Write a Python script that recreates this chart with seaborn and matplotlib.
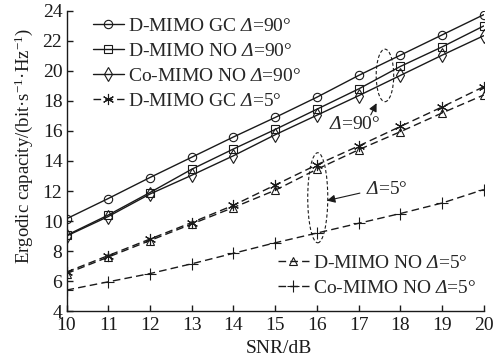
import matplotlib
matplotlib.use("Agg")
import matplotlib.pyplot as plt
import seaborn as sns
from matplotlib.patches import Ellipse

sns.set_theme(style="ticks")
plt.rcParams['font.family'] = ['Liberation Serif', 'DejaVu Serif']
# math text: Greek capitals come from "rm" -> italic Delta; "sf" used for upright superscripts
plt.rcParams['mathtext.fontset'] = 'custom'
plt.rcParams['mathtext.rm'] = 'Liberation Serif:italic'
plt.rcParams['mathtext.it'] = 'Liberation Serif:italic'
plt.rcParams['mathtext.sf'] = 'Liberation Serif'
plt.rcParams['lines.dashed_pattern'] = [5.5, 3.0]

# data
snr = [10, 11, 12, 13, 14, 15, 16, 17, 18, 19, 20]
dmimo_gc_90 = [10.15, 11.5, 12.9, 14.25, 15.6, 16.9, 18.25, 19.7, 21.05, 22.4, 23.75]
dmimo_no_90 = [9.05, 10.4, 11.9, 13.45, 14.8, 16.1, 17.45, 18.8, 20.3, 21.6, 23.0]
comimo_no_90 = [9.0, 10.3, 11.8, 13.05, 14.35, 15.75, 17.05, 18.35, 19.7, 21.05, 22.35]
dmimo_gc_5 = [6.6, 7.7, 8.8, 9.9, 11.05, 12.4, 13.75, 15.0, 16.3, 17.6, 18.95]
dmimo_no_5 = [6.5, 7.6, 8.7, 9.8, 10.9, 12.05, 13.45, 14.75, 15.95, 17.2, 18.4]
comimo_no_5 = [5.4, 5.95, 6.5, 7.15, 7.85, 8.55, 9.2, 9.85, 10.5, 11.2, 12.1]

D = r"$\Delta$"
series = [
    (dmimo_gc_90, f"D-MIMO GC {D}=90°", "o", "-", 6),
    (dmimo_no_90, f"D-MIMO NO {D}=90°", "s", "-", 6),
    (comimo_no_90, f"Co-MIMO NO {D}=90°", "d", "-", 7),
    (dmimo_gc_5, f"D-MIMO GC {D}=5°", (6, 2, 0), "--", 8),
    (dmimo_no_5, f"D-MIMO NO {D}=5°", "^", "--", 6),
    (comimo_no_5, f"Co-MIMO NO {D}=5°", "+", "--", 8),
]

fig = plt.figure(figsize=(5.04, 3.63), dpi=100)
ax = fig.add_axes([0.132, 0.143, 0.828, 0.827])

for vals, lab, mk, ls, ms in series:
    sns.lineplot(x=snr, y=vals, ax=ax, color="k", lw=1.0, linestyle=ls,
                 marker=mk, markersize=ms, markerfacecolor="none",
                 markeredgecolor="k", markeredgewidth=0.8, label=lab)

ax.set_xlim(10, 20)
ax.set_ylim(4, 24)
ax.set_xticks(range(10, 21))
ax.set_yticks(range(4, 25, 2))
sns.despine(ax=ax)
for s in ["left", "bottom"]:
    ax.spines[s].set_color("k")
    ax.spines[s].set_linewidth(1.0)
ax.tick_params(direction="in", length=4, width=1.0, colors="k", labelsize=14)
ax.tick_params(axis="x", pad=4)
ax.tick_params(axis="y", pad=3)

ax.set_xlabel("SNR/dB", fontsize=14, color="k")
ax.set_ylabel(r"Ergodic capacity/(bit·s$^{\mathsf{-1}}$·Hz$^{\mathsf{-1}}$)", fontsize=13.5, color="k")
ax.xaxis.set_label_coords(0.51, -0.095)
ax.yaxis.set_label_coords(-0.075, 0.55)

handles, labels = ax.get_legend_handles_labels()
ax.get_legend().remove()
leg1 = ax.legend(handles[:4], labels[:4], loc="upper left", bbox_to_anchor=(0.063, 0.98),
                 frameon=False, fontsize=14, handlelength=1.6, handletextpad=0.2,
                 labelspacing=0.38, borderpad=0, borderaxespad=0)
ax.add_artist(leg1)
ax.legend(handles[4:], labels[4:], loc="lower left", bbox_to_anchor=(0.506, 0.047),
          frameon=False, fontsize=14, handlelength=1.6, handletextpad=0.2,
          labelspacing=0.38, borderpad=0, borderaxespad=0)

# dashed ellipses and callouts
ax.add_patch(Ellipse((17.63, 19.7), 0.42, 3.5, fill=False, ec="k", lw=0.8, ls=(0, (3, 2))))
ax.add_patch(Ellipse((16.02, 11.55), 0.48, 6.0, fill=False, ec="k", lw=0.8, ls=(0, (3, 2))))
arrow = dict(arrowstyle="-|>", color="k", lw=0.8, mutation_scale=12, shrinkA=0, shrinkB=0)
ax.annotate("", xy=(17.43, 17.85), xytext=(17.29, 17.07), arrowprops=arrow)
ax.annotate("", xy=(16.24, 11.36), xytext=(17.03, 11.86), arrowprops=arrow)
ax.text(16.9, 16.42, f"{D}=90°", fontsize=14, ha="center", va="center")
ax.text(17.68, 12.07, f"{D}=5°", fontsize=14, ha="center", va="center")

fig.savefig("out.png", dpi=100)
